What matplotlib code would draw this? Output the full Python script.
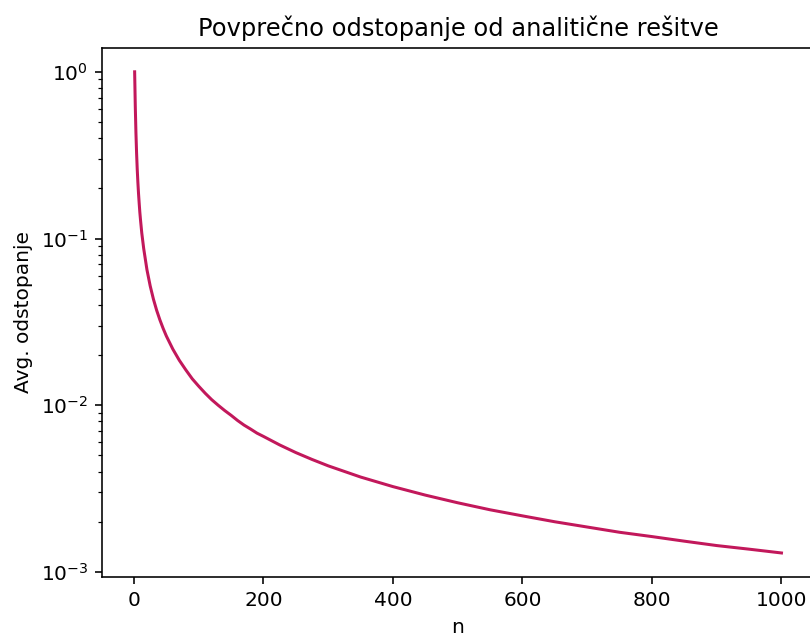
import matplotlib
matplotlib.use("Agg")
import matplotlib.pyplot as plt

# povprecno odstopanje numericne od analiticne resitve v odvisnosti od n
n_vals = [1, 2, 3, 4, 5, 6, 7, 8, 9, 10, 12, 15, 20, 25, 30, 35, 40, 45, 50,
          60, 70, 80, 90, 100, 110, 120, 130, 140, 150, 160, 170, 180, 190,
          200, 225, 250, 275, 300, 350, 400, 450, 500, 550, 600, 650, 700,
          750, 800, 850, 900, 950, 1000]
odstopanje = [1.0, 0.62, 0.43, 0.325, 0.26, 0.217, 0.186, 0.163, 0.144, 0.13,
              0.108, 0.087, 0.065, 0.052, 0.0433, 0.0371, 0.0325, 0.0289,
              0.026, 0.0217, 0.0186, 0.0163, 0.0144, 0.013, 0.0118, 0.0108,
              0.01, 0.0093, 0.0087, 0.0081, 0.0076, 0.0072, 0.0068,
              0.0065, 0.00578, 0.0052, 0.00473, 0.00433, 0.00371, 0.00325,
              0.00289, 0.0026, 0.00236, 0.00217, 0.002, 0.00186, 0.00173,
              0.00163, 0.00153, 0.00144, 0.00137, 0.0013]

dpi = 145
fig = plt.figure(figsize=(810 / dpi, 635 / dpi), dpi=dpi)
ax = fig.add_axes([0.1263, 0.0913, 0.8784, 0.8335])

ax.plot(n_vals, odstopanje, color="#c2185b")
ax.set_yscale("log")
ax.set_title("Povprečno odstopanje od analitične rešitve")
ax.set_xlabel("n")
ax.set_ylabel("Avg. odstopanje")

fig.savefig("out.png", dpi=dpi)
